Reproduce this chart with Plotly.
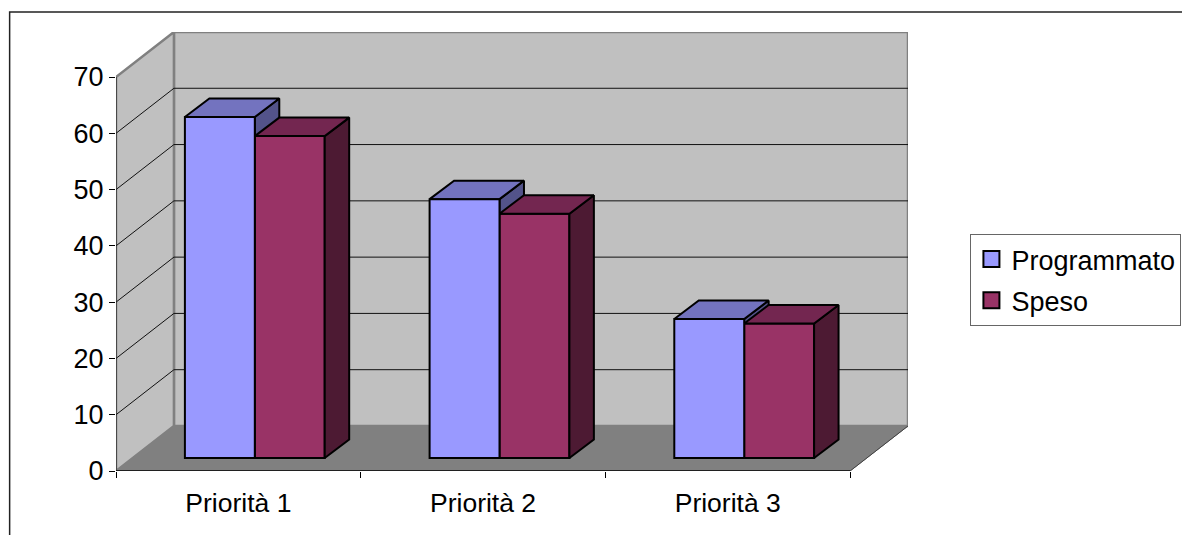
import plotly.graph_objects as go

categories = ["Priorità 1", "Priorità 2", "Priorità 3"]
programmato = [60.6, 46.0, 24.7]
speso = [57.2, 43.4, 23.9]
y_ticks = [0, 10, 20, 30, 40, 50, 60, 70]

# 3D look, in axis units
WALL_DX = 58 / 245
WALL_DY = 8.0
BAR_DX = 0.1
BAR_DY = 3.29
BAR_BASE = 2.3
BAR_W = 0.2857
BAR_OFF = 0.2816

BLUE, BLUE_TOP, BLUE_SIDE = "#9999FF", "#7373BF", "#53538A"
RED, RED_TOP, RED_SIDE = "#993366", "#732650", "#4D1A33"
FONT = "Liberation Sans"
n = len(categories)
fig = go.Figure()


def poly(xs, ys, fill, line, width, xa="x", ya="y"):
    fig.add_trace(go.Scatter(
        x=xs + xs[:1], y=ys + ys[:1], mode="lines", fill="toself", fillcolor=fill,
        line=dict(color=line, width=width), showlegend=False, hoverinfo="skip",
        cliponaxis=False, xaxis=xa, yaxis=ya))


def seg(xs, ys, color, width):
    fig.add_trace(go.Scatter(
        x=xs, y=ys, mode="lines", line=dict(color=color, width=width),
        showlegend=False, hoverinfo="skip", cliponaxis=False))


top = y_ticks[-1]
# walls and floor
poly([WALL_DX, n + WALL_DX, n + WALL_DX, WALL_DX], [WALL_DY, WALL_DY, top + WALL_DY, top + WALL_DY],
     "#C0C0C0", "#808080", 2.5)
poly([0, WALL_DX, WALL_DX, 0], [0, WALL_DY, top + WALL_DY, top], "#C0C0C0", "#808080", 2.5)
poly([0, WALL_DX, n + WALL_DX, n], [0, WALL_DY, WALL_DY, 0], "#808080", "#808080", 1)
# gridlines
for v in y_ticks[1:-1]:
    seg([0, WALL_DX, n + WALL_DX], [v, v + WALL_DY, v + WALL_DY], "#111111", 1)
seg([n, n + WALL_DX], [0, WALL_DY], "#404040", 1)
seg([0, 0], [0, top], "#222222", 1.2)
seg([0, n], [0, 0], "#000000", 1.5)

# blue depth faces go below the bars
for i in range(n):
    x1 = i + BAR_OFF + BAR_W
    x0 = i + BAR_OFF
    t = BAR_BASE + programmato[i]
    poly([x1, x1 + BAR_DX, x1 + BAR_DX, x1], [t, t + BAR_DY, BAR_BASE + BAR_DY, BAR_BASE], BLUE_SIDE, "#000000", 2)
    poly([x0, x1, x1 + BAR_DX, x0 + BAR_DX], [t, t, t + BAR_DY, t + BAR_DY], BLUE_TOP, "#000000", 2)

# front faces
for vals, off, color, name in ((speso, BAR_W, RED, "Speso"), (programmato, 0, BLUE, "Programmato")):
    fig.add_trace(go.Bar(
        x=[i + BAR_OFF + off + BAR_W / 2 for i in range(n)], y=vals,
        base=[BAR_BASE] * n, width=BAR_W, name=name, showlegend=False,
        marker=dict(color=color, line=dict(color="#000000", width=2)),
        xaxis="x2", yaxis="y2"))

# red depth faces above the front faces
for i in range(n):
    x0 = i + BAR_OFF + BAR_W
    x1 = x0 + BAR_W
    t = BAR_BASE + speso[i]
    poly([x1, x1 + BAR_DX, x1 + BAR_DX, x1], [t, t + BAR_DY, BAR_BASE + BAR_DY, BAR_BASE], RED_SIDE, "#000000", 2, "x2", "y2")
    poly([x0, x1, x1 + BAR_DX, x0 + BAR_DX], [t, t, t + BAR_DY, t + BAR_DY], RED_TOP, "#000000", 2, "x2", "y2")

# legend entries
for name, color in (("Programmato", BLUE), ("Speso", RED)):
    fig.add_trace(go.Scatter(
        x=[None], y=[None], mode="markers", name=name, legendgroup=name,
        marker=dict(symbol="square", size=16, color=color, line=dict(color="#000000", width=2))))

xr = [0, n + WALL_DX]
yr = [0, top + WALL_DY]
fig.update_layout(
    width=1182, height=535,
    margin=dict(l=115.5, r=273.5, t=32, b=64, autoexpand=False),
    paper_bgcolor="#FFFFFF", plot_bgcolor="#FFFFFF",
    font=dict(family=FONT, size=27, color="#000000"),
    barmode="overlay",
    xaxis=dict(range=xr, tickmode="array", tickvals=[i + 0.5 for i in range(n)], ticktext=categories,
               ticks="", showgrid=False, zeroline=False, showline=False, ticklabelstandoff=13,
               minor=dict(tick0=0, dtick=1, ticks="outside", ticklen=6, tickcolor="#000000", tickwidth=1, showgrid=False),
               tickfont=dict(size=26.5, color="#000000")),
    yaxis=dict(range=yr, tickmode="array", tickvals=y_ticks, ticks="outside", ticklen=6,
               tickcolor="#000000", tickwidth=1, showgrid=False, zeroline=False, showline=False,
               tickfont=dict(size=27, color="#000000")),
    xaxis2=dict(range=xr, overlaying="x", visible=False),
    yaxis2=dict(range=yr, overlaying="y", visible=False),
    legend=dict(x=(971 - 115.5) / 793, y=(471 - 234) / 439, xanchor="left", yanchor="top",
                bgcolor="#FFFFFF", bordercolor="#666666", borderwidth=1, entrywidth=190, entrywidthmode="pixels",
                font=dict(size=27, color="#000000"), tracegroupgap=3),
    shapes=[dict(type="rect", xref="paper", yref="paper", layer="below",
                 x0=(9 - 115.5) / 793, x1=1.6, y0=-0.3, y1=(471 - 12) / 439,
                 line=dict(color="#222222", width=1.5))],
)
fig.write_html("out.html", config={"displayModeBar": False},
               post_script="document.body.style.margin='0';document.body.style.overflow='hidden';")
